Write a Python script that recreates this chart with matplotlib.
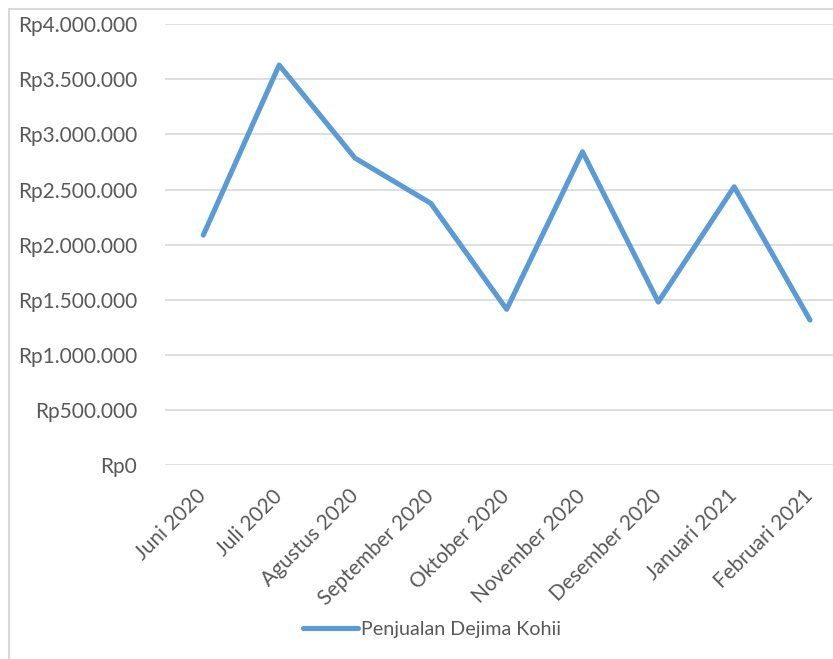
import matplotlib
matplotlib.use("Agg")
import matplotlib.pyplot as plt
from matplotlib.ticker import FuncFormatter, MultipleLocator
from matplotlib.lines import Line2D

months = ["Juni 2020", "Juli 2020", "Agustus 2020", "September 2020", "Oktober 2020",
          "November 2020", "Desember 2020", "Januari 2021", "Februari 2021"]
sales = [2087000, 3630000, 2786000, 2375000, 1413000, 2843000, 1479000, 2525000, 1316000]
series_name = "Penjualan Dejima Kohii"

W, H = 833, 659
FS = 15
plt.rcParams['font.family'] = ['Lato', 'DejaVu Sans']
fig = plt.figure(figsize=(W / 100, H / 100), dpi=100)
fig.patch.set_facecolor('white')

# chart-area border (left and top visible)
fig.add_artist(Line2D([9 / W, 9 / W], [0, 1 - 9 / H], color='#D9D9D9', lw=1.5, transform=fig.transFigure))
fig.add_artist(Line2D([9 / W, 1], [1 - 9 / H, 1 - 9 / H], color='#D9D9D9', lw=1.5, transform=fig.transFigure))

left, right = 165.4, 847.9
top, bottom = 24.3, 465.0
ax = fig.add_axes([left / W, 1 - bottom / H, (right - left) / W, (bottom - top) / H])
x = list(range(len(months)))
ax.plot(x, sales, color='#5B9BD5', lw=3.7, solid_capstyle='round', solid_joinstyle='round', zorder=3)
ax.set_xlim(-0.5, len(months) - 0.5)
ax.set_ylim(0, 4000000)
ax.yaxis.set_major_locator(MultipleLocator(500000))
ax.yaxis.set_major_formatter(FuncFormatter(lambda v, p: "Rp" + f"{int(v):,}".replace(",", ".")))
ax.grid(axis='y', color='#D9D9D9', lw=1.2)
ax.set_axisbelow(True)
for s in ax.spines.values():
    s.set_visible(False)
ax.tick_params(axis='both', length=0, colors='#595959', labelsize=FS)
ax.tick_params(axis='y', pad=20.5)
ax.set_xticks(x)
ax.set_xticklabels(months, rotation=45, ha='right', va='center', rotation_mode='anchor')
ax.tick_params(axis='x', pad=20)

handle = Line2D([], [], color='#5B9BD5', lw=3.7, solid_capstyle='round')
fig.legend([handle], [series_name], loc='center', bbox_to_anchor=(432 / W, 1 - 629 / H),
           frameon=False, fontsize=14.2, labelcolor='#595959', handlelength=2.8, handletextpad=0.15)

fig.savefig("out.png", dpi=100, facecolor='white')
